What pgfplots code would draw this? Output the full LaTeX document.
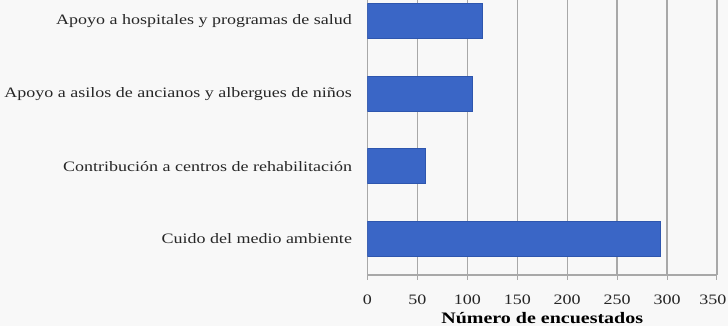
\documentclass[border=0pt]{standalone}
\usepackage{pgfplots}
\pgfplotsset{compat=1.18}
\usepackage{fontspec}
\setmainfont[FakeStretch=1.25]{Liberation Serif}
\definecolor{barblue}{HTML}{3A66C6}
\definecolor{baredge}{HTML}{2E56AE}
\definecolor{gridgray}{HTML}{A8A8A8}
\definecolor{bg}{HTML}{F8F8F8}
\begin{document}
\begin{tikzpicture}
\fill[bg] (-367.5pt,-51pt) rectangle (360.5pt,275pt);
\begin{axis}[
  at={(0pt,0pt)}, anchor=south west,
  scale only axis,
  width=349.5pt, height=290pt,
  xbar, bar width=35pt,
  xmin=0, xmax=350,
  ymin=-0.5, ymax=3.5,
  xtick={0,50,...,300},
  extra x ticks={350},
  extra x tick style={xticklabel style={xshift=-4pt}},
  ytick={0,1,2,3},
  yticklabels={Cuido del medio ambiente,Contribución a centros de rehabilitación,Apoyo a asilos de ancianos y albergues de niños,Apoyo a hospitales y programas de salud},
  extra y ticks={-0.5,0.5,1.5,2.5},
  extra y tick labels={},
  extra y tick style={major tick length=5pt, tick style={gridgray, line width=1pt}, tick align=outside},
  y tick style={draw=none},
  xmajorgrids, grid style={gridgray, line width=1.3pt},
  x tick style={gridgray, line width=1pt},
  major tick length=5pt, tick align=outside,
  axis x line*=bottom, axis y line*=left,
  x axis line style={gridgray, line width=1.3pt, -},
  y axis line style={gridgray, line width=1.3pt, -},
  tick label style={font=\fontsize{14.4}{15}\selectfont, text=black!85},
  yticklabel style={font=\fontsize{14.4}{15}\selectfont, xshift=-7pt},
  xticklabel style={anchor=base, yshift=-25pt},
  xlabel={\textbf{Número de encuestados}},
  xlabel style={font=\fontsize{16}{16}\selectfont, at={(axis description cs:0.5,0)}, anchor=base, yshift=-48.5pt},
  /pgf/number format/assume math mode=true,
]
\addplot[fill=barblue, draw=baredge, line width=0.8pt] coordinates {(293,0) (58,1) (105,2) (115,3)};
\end{axis}
\pgfresetboundingbox
\useasboundingbox (-367.5pt,-51pt) rectangle (360.5pt,275pt);
\end{tikzpicture}
\end{document}
